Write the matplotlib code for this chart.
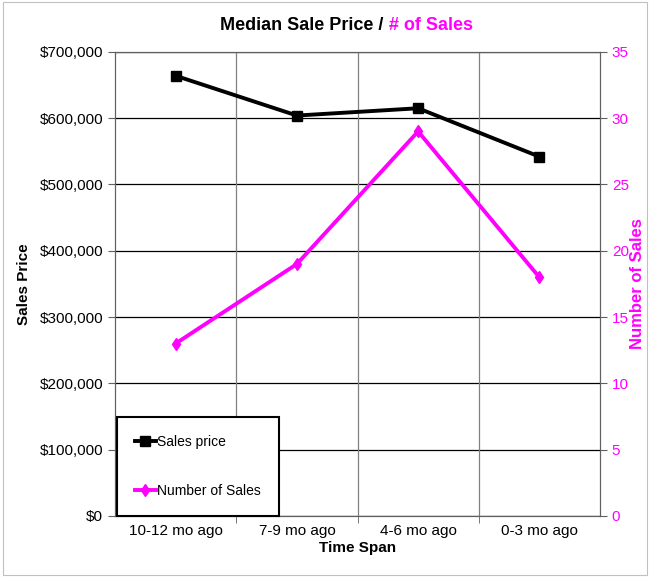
import matplotlib.pyplot as plt
from matplotlib.ticker import FuncFormatter, MultipleLocator
from matplotlib.patches import Rectangle

plt.rcParams['font.family'] = ['Liberation Sans', 'DejaVu Sans']

# Median sale price / number of sales by time span
periods = ['10-12 mo ago', '7-9 mo ago', '4-6 mo ago', '0-3 mo ago']
sales_price = [664000, 604000, 615000, 542000]
num_sales = [13, 19, 29, 18]

magenta = '#ff00ff'

fig = plt.figure(figsize=(6.5, 5.77), dpi=100)
ax = fig.add_axes([0.177, 0.106, 0.746, 0.804])
ax2 = ax.twinx()

x = list(range(len(periods)))

ax.plot(x, sales_price, color='black', lw=2.8, marker='s', ms=7,
        label='Sales price', zorder=5)
ax2.plot(x, num_sales, color=magenta, lw=2.8, marker='d', ms=6,
         label='Number of Sales', zorder=5)

ax.set_xlim(-0.5, 3.5)
ax.set_ylim(0, 700000)
ax2.set_ylim(0, 35)
ax.yaxis.set_major_locator(MultipleLocator(100000))
ax2.yaxis.set_major_locator(MultipleLocator(5))
ax.yaxis.set_major_formatter(FuncFormatter(lambda v, p: '${:,.0f}'.format(v)))

ax.set_xticks(x)
ax.set_xticklabels(periods)
ax.set_xticks([0.5, 1.5, 2.5], minor=True)
ax.tick_params(axis='x', which='major', length=0, labelsize=11, pad=6)
ax.tick_params(axis='x', which='minor', length=5, color='#606060')
ax.tick_params(axis='y', labelsize=11, length=5, color='#606060')
ax2.tick_params(axis='y', labelsize=11, length=5, color='#606060',
                labelcolor=magenta)

# gridlines: black horizontals, gray verticals between categories
ax.grid(axis='y', color='black', lw=0.9)
for b in [0.5, 1.5, 2.5]:
    ax.axvline(b, color='#808080', lw=0.9, zorder=1)
ax.set_axisbelow(True)

for s in ax.spines.values():
    s.set_color('#606060')
for s in ax2.spines.values():
    s.set_color('#606060')

ax.set_xlabel('Time Span', fontsize=11, fontweight='bold', labelpad=2)
ax.set_ylabel('Sales Price', fontsize=11, fontweight='bold', labelpad=6)
ax2.set_ylabel('Number of Sales', fontsize=12, fontweight='bold',
               color=magenta, labelpad=1)

fig.text(0.598, 0.955, 'Median Sale Price / ', ha='right', va='center',
         fontsize=13, fontweight='bold', color='black')
fig.text(0.598, 0.955, '# of Sales', ha='left', va='center',
         fontsize=13, fontweight='bold', color=magenta)

h1, l1 = ax.get_legend_handles_labels()
h2, l2 = ax2.get_legend_handles_labels()
leg = ax2.legend(h1 + h2, l1 + l2, loc='lower left', bbox_to_anchor=(0.004, 0.0),
                 borderaxespad=0, fontsize=10, labelspacing=2.5,
                 handlelength=1.5, handletextpad=0.1, borderpad=1.3,
                 fancybox=False, framealpha=1, edgecolor='black')
leg.get_frame().set_linewidth(1.5)
leg.set_zorder(10)

# thin outer chart border
fig.patches.append(Rectangle((0.004, 0.004), 0.992, 0.992, transform=fig.transFigure,
                             fill=False, edgecolor='#c0c0c0', lw=0.8))

fig.savefig('out.png', dpi=100)
